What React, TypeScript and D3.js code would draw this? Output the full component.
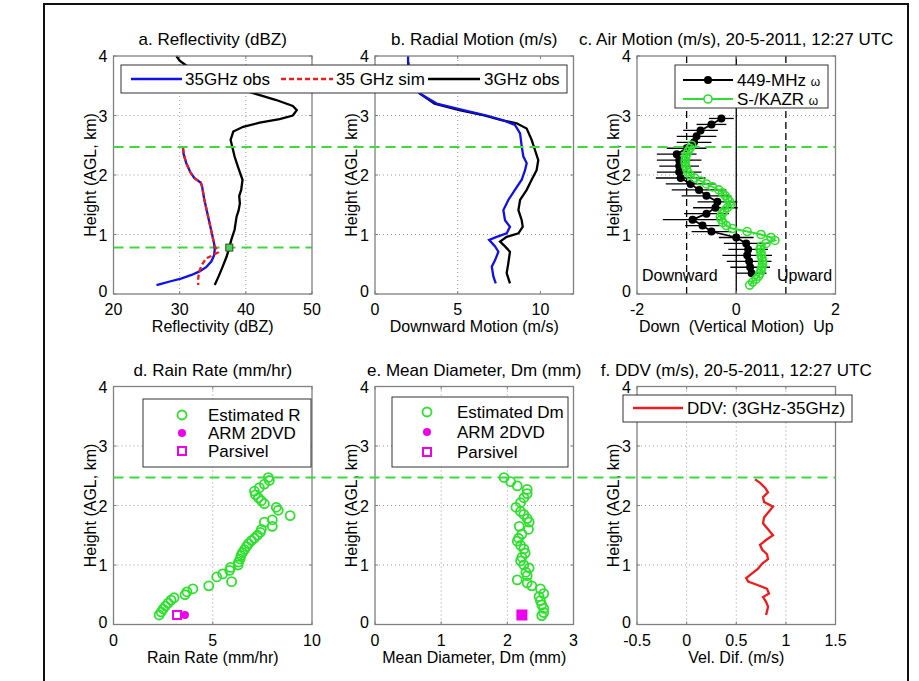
import React from 'react';
import * as d3 from 'd3';

// ---------- data ----------
// a. Reflectivity
const kaObsH = [2.45, 2.35, 2.2, 2.05, 1.95, 1.87, 1.8, 1.6, 1.4, 1.2, 1.0, 0.85, 0.75, 0.65, 0.55, 0.45, 0.38, 0.32, 0.26, 0.21, 0.17, 0.15];
const kaObsZ = [30.5, 30.6, 31.0, 31.6, 32.2, 33.2, 33.4, 33.7, 34.1, 34.5, 34.9, 35.2, 35.3, 35.2, 34.8, 34.0, 33.0, 31.8, 30.2, 28.5, 27.2, 26.5];
const kaSimH = [2.45, 2.35, 2.2, 2.05, 1.95, 1.87, 1.8, 1.6, 1.4, 1.2, 1.0, 0.85, 0.78, 0.74, 0.7, 0.65, 0.6, 0.55, 0.5, 0.42, 0.35, 0.25, 0.15];
const kaSimZ = [30.5, 30.6, 31.0, 31.6, 32.2, 33.2, 33.4, 33.7, 34.1, 34.5, 34.9, 35.2, 35.4, 35.7, 35.8, 35.0, 34.0, 33.7, 33.4, 33.1, 32.9, 32.8, 32.8];
const sObsH = [4.0, 3.92, 3.8, 3.65, 3.5, 3.36, 3.26, 3.16, 3.09, 3.0, 2.94, 2.88, 2.81, 2.73, 2.59, 2.45, 2.31, 2.14, 1.92, 1.75, 1.65, 1.52, 1.4, 1.3, 1.08, 0.91, 0.78, 0.63, 0.46, 0.3, 0.15];
const sObsZ = [29.5, 30.0, 31.5, 34.0, 37.5, 41.6, 44.6, 47.1, 47.7, 47.1, 45.1, 42.1, 39.6, 38.1, 37.7, 38.0, 38.3, 38.8, 39.5, 39.3, 39.0, 39.1, 38.9, 38.6, 38.3, 37.8, 37.5, 37.1, 36.5, 35.9, 35.3];
const meltMarkZ = [37.5];
const meltMarkH = [0.78];

// b. Radial motion
const kaVelH = [4.0, 3.9, 3.7, 3.5, 3.37, 3.2, 3.09, 3.0, 2.92, 2.84, 2.7, 2.48, 2.31, 2.2, 2.08, 1.92, 1.75, 1.58, 1.41, 1.24, 1.13, 1.02, 0.96, 0.91, 0.8, 0.71, 0.57, 0.46, 0.29, 0.18];
const kaVelV = [2.0, 2.0, 2.1, 2.4, 2.7, 3.73, 5.34, 6.75, 7.75, 8.46, 8.77, 8.87, 8.97, 9.17, 9.07, 8.87, 8.46, 8.06, 7.76, 7.86, 8.16, 7.96, 7.36, 6.9, 7.26, 7.46, 7.26, 7.06, 7.16, 7.3];
const sVelH = [3.9, 3.7, 3.5, 3.37, 3.2, 3.09, 3.0, 2.92, 2.87, 2.78, 2.59, 2.42, 2.25, 2.08, 1.92, 1.75, 1.58, 1.41, 1.24, 1.13, 1.02, 0.96, 0.88, 0.8, 0.71, 0.52, 0.35, 0.18];
const sVelV = [2.0, 2.1, 2.4, 2.7, 3.6, 5.1, 6.6, 7.7, 8.56, 9.17, 9.47, 9.67, 9.87, 9.77, 9.47, 9.17, 8.77, 8.67, 8.87, 8.93, 8.67, 7.96, 7.56, 7.86, 8.16, 8.06, 7.96, 8.16];

// c. Air motion
const profH = [0.35, 0.45, 0.55, 0.65, 0.75, 0.85, 0.95, 1.05, 1.15, 1.25, 1.35, 1.45, 1.55, 1.65, 1.75, 1.85, 1.95, 2.05, 2.15, 2.25, 2.35, 2.45, 2.55, 2.65, 2.75, 2.85, 2.95];
const profW = [0.31, 0.28, 0.26, 0.22, 0.24, 0.2, 0.0, -0.5, -0.68, -0.88, -0.6, -0.42, -0.38, -0.6, -0.75, -0.92, -1.12, -1.15, -1.15, -1.15, -1.2, -1.0, -0.85, -0.8, -0.72, -0.5, -0.3];
const profErr = [0.3, 0.4, 0.45, 0.5, 0.4, 0.45, 0.35, 0.4, 0.35, 0.6, 0.45, 0.45, 0.4, 0.5, 0.55, 0.5, 0.5, 0.45, 0.4, 0.45, 0.4, 0.4, 0.35, 0.4, 0.35, 0.3, 0.25];
const kazrH = [0.15, 0.2, 0.25, 0.3, 0.35, 0.4, 0.45, 0.5, 0.55, 0.6, 0.65, 0.7, 0.75, 0.8, 0.85, 0.9, 0.95, 1.0, 1.05, 1.1, 1.15, 1.2, 1.25, 1.3, 1.35, 1.4, 1.45, 1.5, 1.55, 1.6, 1.65, 1.7, 1.75, 1.8, 1.85, 1.9, 1.95, 2.0, 2.05, 2.1, 2.15, 2.2, 2.25, 2.3, 2.35, 2.4, 2.45, 2.5];
const kazrW = [0.27, 0.33, 0.4, 0.45, 0.48, 0.5, 0.52, 0.53, 0.53, 0.52, 0.5, 0.5, 0.48, 0.5, 0.6, 0.78, 0.7, 0.5, 0.22, -0.08, -0.2, -0.27, -0.3, -0.32, -0.28, -0.24, -0.18, -0.12, -0.13, -0.17, -0.22, -0.28, -0.35, -0.48, -0.6, -0.72, -0.84, -0.93, -0.98, -1.0, -1.02, -1.03, -1.03, -1.02, -1.0, -0.97, -0.93, -0.9];
const refLinesW = [-1, 0, 1];

// d. Rain rate
const rainH = [2.47, 2.42, 2.36, 2.3, 2.24, 2.18, 2.13, 2.08, 2.03, 1.97, 1.92, 1.83, 1.76, 1.72, 1.65, 1.6, 1.55, 1.5, 1.45, 1.41, 1.36, 1.31, 1.26, 1.21, 1.16, 1.1, 1.05, 1.0, 0.96, 0.91, 0.85, 0.8, 0.72, 0.65, 0.6, 0.55, 0.5, 0.45, 0.41, 0.36, 0.31, 0.26, 0.21, 0.16];
const rainR = [7.8, 7.85, 7.6, 7.35, 7.1, 7.15, 7.3, 7.45, 7.6, 8.2, 8.3, 8.9, 8.0, 7.6, 8.0, 7.45, 7.4, 7.25, 7.1, 6.95, 6.8, 6.7, 6.6, 6.5, 6.42, 6.38, 6.3, 6.28, 5.9, 5.85, 5.5, 5.2, 5.95, 4.8, 4.0, 3.7, 3.6, 3.05, 2.9, 2.75, 2.62, 2.5, 2.4, 2.3];
const rainDvd = [3.6];
const rainParsivel = [3.2];
const surfaceH = [0.16];

// e. Mean diameter
const dmH = [2.47, 2.4, 2.33, 2.27, 2.2, 2.13, 2.05, 1.97, 1.9, 1.85, 1.78, 1.72, 1.65, 1.6, 1.52, 1.45, 1.4, 1.33, 1.27, 1.2, 1.13, 1.07, 1.0, 0.95, 0.88, 0.82, 0.75, 0.7, 0.65, 0.6, 0.52, 0.47, 0.4, 0.33, 0.27, 0.2, 0.15];
const dmV = [1.95, 2.05, 2.15, 2.3, 2.3, 2.25, 2.2, 2.13, 2.2, 2.25, 2.3, 2.33, 2.18, 2.32, 2.22, 2.17, 2.15, 2.2, 2.25, 2.27, 2.22, 2.2, 2.25, 2.33, 2.28, 2.3, 2.15, 2.3, 2.37, 2.5, 2.55, 2.48, 2.5, 2.52, 2.55, 2.55, 2.52];
const dmDvd = [2.22];
const dmParsivel = [2.22];

// f. DDV
const ddvH = [2.44, 2.38, 2.3, 2.22, 2.14, 2.06, 1.98, 1.9, 1.8, 1.7, 1.6, 1.5, 1.42, 1.34, 1.26, 1.18, 1.1, 1.02, 0.94, 0.86, 0.78, 0.72, 0.66, 0.6, 0.52, 0.46, 0.38, 0.3, 0.22, 0.16];
const ddvV = [0.69, 0.74, 0.79, 0.82, 0.77, 0.78, 0.87, 0.83, 0.78, 0.77, 0.82, 0.87, 0.8, 0.74, 0.76, 0.81, 0.82, 0.76, 0.72, 0.66, 0.6, 0.62, 0.72, 0.81, 0.83, 0.77, 0.8, 0.82, 0.81, 0.8];

// layer heights
const cloudTopH = 2.47;
const meltH = 0.78;

// axes definitions
const yTicks = [0, 1, 2, 3, 4];
const panelTitles = ['a. Reflectivity (dBZ)', 'b. Radial Motion (m/s)', 'c. Air Motion (m/s), 20-5-2011, 12:27 UTC', 'd. Rain Rate (mm/hr)', 'e. Mean Diameter, Dm (mm)', 'f. DDV (m/s), 20-5-2011, 12:27 UTC'];
const xLabels = ['Reflectivity (dBZ)', 'Downward Motion (m/s)', 'Down  (Vertical Motion)  Up', 'Rain Rate (mm/hr)', 'Mean Diameter, Dm (mm)', 'Vel. Dif. (m/s)'];
const xDomains: [number, number][] = [[20, 50], [0, 12], [-2, 2], [0, 10], [0, 3], [-0.5, 1.5]];
const xTickSets = [[20, 30, 40, 50], [0, 5, 10], [-2, 0, 2], [0, 5, 10], [0, 1, 2, 3], [-0.5, 0, 0.5, 1, 1.5]];

// ---------- layout ----------
const PW = 198.5;
const PH = 238;
const COLS = [113.5, 375, 637];
const ROWS = [56, 386.5];
const FONT = "'Liberation Sans', Arial, Helvetica, sans-serif";
const FS = 16;
const FT = 17;
const AX = '#808080';
const GREEN = '#2ee02e';
const DGREEN = '#3fd83f';
const BLUE = '#1010e8';
const RED = '#ee1c1c';
const MAG = '#ee00ee';

type Sc = d3.ScaleLinear<number, number>;

function zip(a: number[], b: number[]) {
  return a.map((v, i) => [v, b[i]] as [number, number]);
}

function Panel({ idx, children }: { idx: number; children: (x: Sc, y: Sc) => React.ReactNode }) {
  const x0 = COLS[idx % 3];
  const y0 = ROWS[Math.floor(idx / 3)];
  const x = d3.scaleLinear().domain(xDomains[idx]).range([x0, x0 + PW]);
  const y = d3.scaleLinear().domain([0, 4]).range([y0 + PH, y0]);
  const xt = xTickSets[idx];
  const tl = 3;
  return (
    <g>
      <rect x={x0} y={y0} width={PW} height={PH} fill="white" />
      {xt.slice(1, -1).map((t) => (
        <line key={'gx' + t} x1={x(t)} x2={x(t)} y1={y0} y2={y0 + PH} stroke="#9a9a9a" strokeWidth={1} strokeDasharray="1,3" />
      ))}
      {yTicks.slice(1, -1).map((t) => (
        <line key={'gy' + t} x1={x0} x2={x0 + PW} y1={y(t)} y2={y(t)} stroke="#9a9a9a" strokeWidth={1} strokeDasharray="1,3" />
      ))}
      {children(x, y)}
      <rect x={x0} y={y0} width={PW} height={PH} fill="none" stroke={AX} strokeWidth={1.3} />
      {xt.map((t) => (
        <g key={'tx' + t}>
          <line x1={x(t)} x2={x(t)} y1={y0 + PH} y2={y0 + PH - tl} stroke={AX} />
          <line x1={x(t)} x2={x(t)} y1={y0} y2={y0 + tl} stroke={AX} />
          <text x={x(t)} y={y0 + PH + 21} textAnchor="middle" fontSize={FS}>{String(t)}</text>
        </g>
      ))}
      {yTicks.map((t) => (
        <g key={'ty' + t}>
          <line x1={x0} x2={x0 + tl} y1={y(t)} y2={y(t)} stroke={AX} />
          <line x1={x0 + PW} x2={x0 + PW - tl} y1={y(t)} y2={y(t)} stroke={AX} />
          <text x={x0 - 6} y={y(t) + (t === 0 ? 3 : 6)} textAnchor="end" fontSize={FS}>{String(t)}</text>
        </g>
      ))}
      <text x={x0 + PW / 2} y={y0 - 11} textAnchor="middle" fontSize={FT}>{panelTitles[idx]}</text>
      <text x={x0 + PW / 2} y={y0 + PH + 38} textAnchor="middle" fontSize={FS} style={{ whiteSpace: 'pre' }}>{xLabels[idx]}</text>
      <text transform={`translate(${x0 - 18},${y0 + PH / 2}) rotate(-90)`} textAnchor="middle" fontSize={FS}>Height (AGL, km)</text>
    </g>
  );
}

function Omega({ children }: { children: React.ReactNode }) {
  return <tspan fontSize={12}>{children}</tspan>;
}

export default function App() {
  const line = (x: Sc, y: Sc) => d3.line<[number, number]>().x((d) => x(d[0])).y((d) => y(d[1]));
  const yTop = d3.scaleLinear().domain([0, 4]).range([ROWS[0] + PH, ROWS[0]]);
  const yBot = d3.scaleLinear().domain([0, 4]).range([ROWS[1] + PH, ROWS[1]]);
  const spanX1 = COLS[0];
  const spanX2 = COLS[2] + PW;

  return (
    <svg width={919} height={681} style={{ position: 'absolute', left: 0, top: 0, background: 'white' }} fontFamily={FONT}>
      <rect x={0} y={0} width={919} height={681} fill="white" />
      <rect x={44} y={4} width={864} height={700} fill="none" stroke="#111" strokeWidth={2} />

      {/* a */}
      <Panel idx={0}>
        {(x, y) => (
          <g>
            <line x1={x(20)} x2={x(50)} y1={y(meltH)} y2={y(meltH)} stroke={DGREEN} strokeWidth={2} strokeDasharray="10,6" />
            <path d={line(x, y)(zip(sObsZ, sObsH))!} fill="none" stroke="#000" strokeWidth={2.3} />
            <path d={line(x, y)(zip(kaObsZ, kaObsH))!} fill="none" stroke={BLUE} strokeWidth={2.3} />
            <path d={line(x, y)(zip(kaSimZ, kaSimH))!} fill="none" stroke={RED} strokeWidth={2.3} strokeDasharray="5,3" />
            {meltMarkZ.map((v, i) => (
              <rect key={i} x={x(v) - 3.5} y={y(meltMarkH[i]) - 3.5} width={7} height={7} fill="#55cc55" stroke="#225522" strokeWidth={1} />
            ))}
          </g>
        )}
      </Panel>

      {/* b */}
      <Panel idx={1}>
        {(x, y) => (
          <g>
            <path d={line(x, y)(zip(sVelV, sVelH))!} fill="none" stroke="#000" strokeWidth={2.3} />
            <path d={line(x, y)(zip(kaVelV, kaVelH))!} fill="none" stroke={BLUE} strokeWidth={2.3} />
          </g>
        )}
      </Panel>

      {/* c */}
      <Panel idx={2}>
        {(x, y) => (
          <g>
            {refLinesW.map((w) => (
              <line key={w} x1={x(w)} x2={x(w)} y1={y(0)} y2={y(4)} stroke="#000" strokeWidth={1.3} strokeDasharray={w === 0 ? undefined : '7,4'} />
            ))}
            {profH.map((h, i) => (
              <line key={'e' + i} x1={x(profW[i] - profErr[i])} x2={x(profW[i] + profErr[i])} y1={y(h)} y2={y(h)} stroke="#000" strokeWidth={1.3} />
            ))}
            <path d={line(x, y)(zip(profW, profH))!} fill="none" stroke="#000" strokeWidth={1.8} />
            {profH.map((h, i) => (
              <circle key={'p' + i} cx={x(profW[i])} cy={y(h)} r={4} fill="#000" />
            ))}
            <path d={line(x, y)(zip(kazrW, kazrH))!} fill="none" stroke={GREEN} strokeWidth={2} />
            {kazrH.map((h, i) => (
              <circle key={'k' + i} cx={x(kazrW[i])} cy={y(h)} r={4} fill="none" stroke={GREEN} strokeWidth={1.6} />
            ))}
            <text x={x(-1.9)} y={y(0.22)} fontSize={FS}>Downward</text>
            <text x={x(0.82)} y={y(0.22)} fontSize={FS}>Upward</text>
          </g>
        )}
      </Panel>

      {/* d */}
      <Panel idx={3}>
        {(x, y) => (
          <g>
            {rainH.map((h, i) => (
              <circle key={i} cx={x(rainR[i])} cy={y(h)} r={4.5} fill="none" stroke={GREEN} strokeWidth={1.8} />
            ))}
            {rainParsivel.map((v, i) => (
              <rect key={'p' + i} x={x(v) - 4} y={y(surfaceH[0]) - 4} width={8} height={8} fill="none" stroke={MAG} strokeWidth={2} />
            ))}
            {rainDvd.map((v, i) => (
              <circle key={'d' + i} cx={x(v)} cy={y(surfaceH[0])} r={4} fill={MAG} />
            ))}
          </g>
        )}
      </Panel>

      {/* e */}
      <Panel idx={4}>
        {(x, y) => (
          <g>
            {dmH.map((h, i) => (
              <circle key={i} cx={x(dmV[i])} cy={y(h)} r={4.5} fill="none" stroke={GREEN} strokeWidth={1.8} />
            ))}
            {dmParsivel.map((v, i) => (
              <rect key={'p' + i} x={x(v) - 4.5} y={y(surfaceH[0]) - 4.5} width={9} height={9} fill={MAG} stroke={MAG} strokeWidth={2} />
            ))}
            {dmDvd.map((v, i) => (
              <circle key={'d' + i} cx={x(v)} cy={y(surfaceH[0])} r={4} fill={MAG} />
            ))}
          </g>
        )}
      </Panel>

      {/* f */}
      <Panel idx={5}>
        {(x, y) => (
          <path d={line(x, y)(zip(ddvV, ddvH))!} fill="none" stroke={RED} strokeWidth={2.3} />
        )}
      </Panel>

      {/* layer lines spanning panels */}
      <line x1={spanX1} x2={spanX2} y1={yTop(cloudTopH)} y2={yTop(cloudTopH)} stroke={DGREEN} strokeWidth={2} strokeDasharray="10,6" />
      <line x1={spanX1} x2={spanX2} y1={yBot(cloudTopH)} y2={yBot(cloudTopH)} stroke={DGREEN} strokeWidth={2} strokeDasharray="10,6" />

      {/* legends */}
      <g fontSize={FT}>
        <rect x={121} y={65} width={446} height={28} fill="white" stroke="#333" strokeWidth={1} />
        <line x1={131} x2={182} y1={79} y2={79} stroke={BLUE} strokeWidth={2.3} />
        <text x={185} y={85}>35GHz obs</text>
        <line x1={281} x2={333} y1={79} y2={79} stroke={RED} strokeWidth={2.3} strokeDasharray="5,3" />
        <text x={336} y={85}>35 GHz sim</text>
        <line x1={428} x2={480} y1={79} y2={79} stroke="#000" strokeWidth={2.3} />
        <text x={484} y={85}>3GHz obs</text>

        <rect x={675} y={65} width={153} height={43} fill="white" stroke="#333" strokeWidth={1} />
        <line x1={683} x2={733} y1={80} y2={80} stroke="#000" strokeWidth={1.8} />
        <circle cx={708} cy={80} r={4} fill="#000" />
        <text x={737} y={86}>449-MHz <Omega>ω</Omega></text>
        <line x1={683} x2={733} y1={99} y2={99} stroke={GREEN} strokeWidth={2} />
        <circle cx={708} cy={99} r={4} fill="white" stroke={GREEN} strokeWidth={1.6} />
        <text x={737} y={105}>S-/KAZR <Omega>ω</Omega></text>

        <rect x={143} y={399} width={168} height={68} fill="white" stroke="#333" strokeWidth={1} />
        <circle cx={182} cy={415} r={4.5} fill="none" stroke={GREEN} strokeWidth={1.8} />
        <text x={208} y={421}>Estimated R</text>
        <circle cx={182} cy={433} r={4} fill={MAG} />
        <text x={208} y={439}>ARM 2DVD</text>
        <rect x={178} y={447} width={8} height={8} fill="none" stroke={MAG} strokeWidth={2} />
        <text x={208} y={457}>Parsivel</text>

        <rect x={392} y={397} width={176} height={70} fill="white" stroke="#333" strokeWidth={1} />
        <circle cx={427} cy={412} r={4.5} fill="none" stroke={GREEN} strokeWidth={1.8} />
        <text x={457} y={418}>Estimated Dm</text>
        <circle cx={427} cy={432} r={4} fill={MAG} />
        <text x={457} y={438}>ARM 2DVD</text>
        <rect x={423} y={448} width={8} height={8} fill="none" stroke={MAG} strokeWidth={2} />
        <text x={457} y={458}>Parsivel</text>

        <rect x={623} y={395} width={229} height={27} fill="white" stroke="#333" strokeWidth={1} />
        <line x1={633} x2={683} y1={408} y2={408} stroke={RED} strokeWidth={2.3} />
        <text x={687} y={414}>DDV: (3GHz-35GHz)</text>
      </g>
    </svg>
  );
}
